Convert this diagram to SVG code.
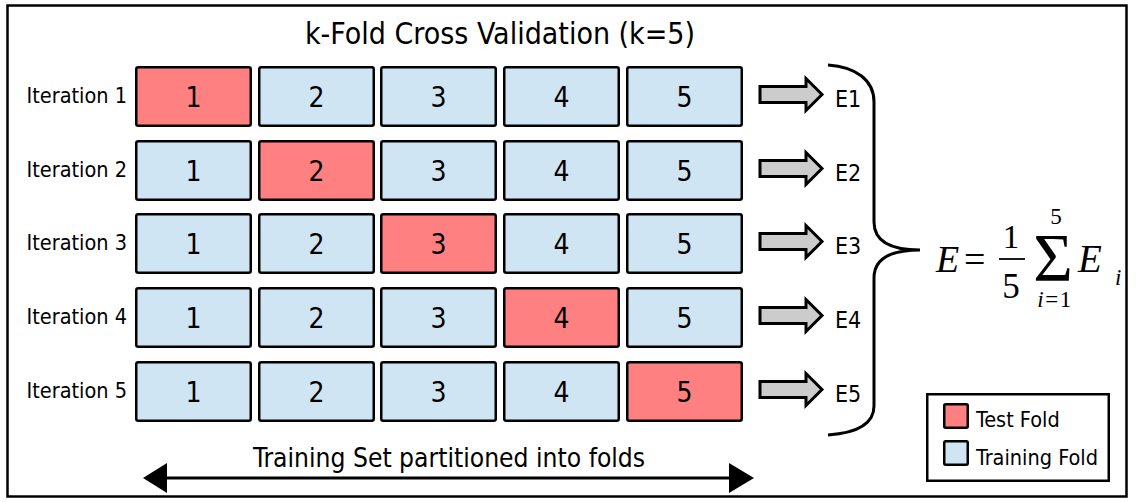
<svg xmlns="http://www.w3.org/2000/svg" width="1136" height="502" viewBox="0 0 1136 502">
  <style>
    .sans { font-family: "DejaVu Sans Condensed", "DejaVu Sans", "Liberation Sans", sans-serif; font-stretch: condensed; fill: #000; }
    .serif { font-family: "Liberation Serif", "DejaVu Serif", serif; fill: #000; }
    .cell { stroke: #000; stroke-width: 2.5; }
    .test { fill: #ff8080; }
    .train { fill: #d0e5f3; }
    .num { font-size: 28px; text-anchor: middle; }
    .iter { font-size: 21.5px; text-anchor: end; }
    .err { font-size: 23px; }
    .blk { fill: #cccccc; stroke: #000; stroke-width: 3; stroke-linejoin: miter; }
  </style>
  <defs>
    <polygon id="blockArrow" class="blk" points="0,-8 46,-8 46,-16 62,0 46,16 46,8 0,8"/>
  </defs>

  <!-- outer frame -->
  <rect x="7.5" y="5.5" width="1119" height="491" fill="#fff" stroke="#000" stroke-width="2.5"/>

  <text class="sans" x="500" y="44" font-size="30" text-anchor="middle">k-Fold Cross Validation (k=5)</text>

  <!-- iteration 1 -->
  <g id="iter1">
    <text class="sans iter" x="127" y="103">Iteration 1</text>
    <rect class="cell test" x="136.25" y="67.25" width="114.5" height="58.5" rx="2"/>
    <rect class="cell train" x="259.25" y="67.25" width="114.5" height="58.5" rx="2"/>
    <rect class="cell train" x="381.25" y="67.25" width="114.5" height="58.5" rx="2"/>
    <rect class="cell train" x="504.25" y="67.25" width="114.5" height="58.5" rx="2"/>
    <rect class="cell train" x="627.25" y="67.25" width="114.5" height="58.5" rx="2"/>
    <text class="sans num" x="193.5" y="107">1</text>
    <text class="sans num" x="316.5" y="107">2</text>
    <text class="sans num" x="438.5" y="107">3</text>
    <text class="sans num" x="561.5" y="107">4</text>
    <text class="sans num" x="684.5" y="107">5</text>
  </g>

  <!-- iteration 2 -->
  <g id="iter2">
    <text class="sans iter" x="127" y="177">Iteration 2</text>
    <rect class="cell train" x="136.25" y="141.25" width="114.5" height="58.5" rx="2"/>
    <rect class="cell test" x="259.25" y="141.25" width="114.5" height="58.5" rx="2"/>
    <rect class="cell train" x="381.25" y="141.25" width="114.5" height="58.5" rx="2"/>
    <rect class="cell train" x="504.25" y="141.25" width="114.5" height="58.5" rx="2"/>
    <rect class="cell train" x="627.25" y="141.25" width="114.5" height="58.5" rx="2"/>
    <text class="sans num" x="193.5" y="181">1</text>
    <text class="sans num" x="316.5" y="181">2</text>
    <text class="sans num" x="438.5" y="181">3</text>
    <text class="sans num" x="561.5" y="181">4</text>
    <text class="sans num" x="684.5" y="181">5</text>
  </g>

  <!-- iteration 3 -->
  <g id="iter3">
    <text class="sans iter" x="127" y="250">Iteration 3</text>
    <rect class="cell train" x="136.25" y="214.25" width="114.5" height="58.5" rx="2"/>
    <rect class="cell train" x="259.25" y="214.25" width="114.5" height="58.5" rx="2"/>
    <rect class="cell test" x="381.25" y="214.25" width="114.5" height="58.5" rx="2"/>
    <rect class="cell train" x="504.25" y="214.25" width="114.5" height="58.5" rx="2"/>
    <rect class="cell train" x="627.25" y="214.25" width="114.5" height="58.5" rx="2"/>
    <text class="sans num" x="193.5" y="254">1</text>
    <text class="sans num" x="316.5" y="254">2</text>
    <text class="sans num" x="438.5" y="254">3</text>
    <text class="sans num" x="561.5" y="254">4</text>
    <text class="sans num" x="684.5" y="254">5</text>
  </g>

  <!-- iteration 4 -->
  <g id="iter4">
    <text class="sans iter" x="127" y="324">Iteration 4</text>
    <rect class="cell train" x="136.25" y="288.25" width="114.5" height="58.5" rx="2"/>
    <rect class="cell train" x="259.25" y="288.25" width="114.5" height="58.5" rx="2"/>
    <rect class="cell train" x="381.25" y="288.25" width="114.5" height="58.5" rx="2"/>
    <rect class="cell test" x="504.25" y="288.25" width="114.5" height="58.5" rx="2"/>
    <rect class="cell train" x="627.25" y="288.25" width="114.5" height="58.5" rx="2"/>
    <text class="sans num" x="193.5" y="328">1</text>
    <text class="sans num" x="316.5" y="328">2</text>
    <text class="sans num" x="438.5" y="328">3</text>
    <text class="sans num" x="561.5" y="328">4</text>
    <text class="sans num" x="684.5" y="328">5</text>
  </g>

  <!-- iteration 5 -->
  <g id="iter5">
    <text class="sans iter" x="127" y="398">Iteration 5</text>
    <rect class="cell train" x="136.25" y="362.25" width="114.5" height="58.5" rx="2"/>
    <rect class="cell train" x="259.25" y="362.25" width="114.5" height="58.5" rx="2"/>
    <rect class="cell train" x="381.25" y="362.25" width="114.5" height="58.5" rx="2"/>
    <rect class="cell train" x="504.25" y="362.25" width="114.5" height="58.5" rx="2"/>
    <rect class="cell test" x="627.25" y="362.25" width="114.5" height="58.5" rx="2"/>
    <text class="sans num" x="193.5" y="402">1</text>
    <text class="sans num" x="316.5" y="402">2</text>
    <text class="sans num" x="438.5" y="402">3</text>
    <text class="sans num" x="561.5" y="402">4</text>
    <text class="sans num" x="684.5" y="402">5</text>
  </g>

  <!-- per-fold error labels -->
  <g id="errors">
    <text class="sans err" x="835" y="107">E1</text>
    <text class="sans err" x="835" y="181">E2</text>
    <text class="sans err" x="835" y="254">E3</text>
    <text class="sans err" x="835" y="328">E4</text>
    <text class="sans err" x="835" y="402">E5</text>
  </g>

  <!-- averaged error formula -->
  <g id="formula">
    <text class="serif" x="936" y="272" font-size="38" font-style="italic">E</text>
    <text class="serif" x="964" y="272" font-size="38">=</text>
    <text class="serif" x="1011" y="248" font-size="33" text-anchor="middle">1</text>
    <line x1="999" y1="259" x2="1025" y2="259" stroke="#000" stroke-width="1.8"/>
    <text class="serif" x="1011" y="298" font-size="35" text-anchor="middle">5</text>
    <text class="serif" x="1053" y="280" font-size="68" text-anchor="middle">Σ</text>
    <text class="serif" x="1056" y="224" font-size="23" text-anchor="middle">5</text>
    <text class="serif" x="1055" y="307" font-size="23" text-anchor="middle" letter-spacing="1.5"><tspan font-style="italic">i</tspan>=1</text>
    <text class="serif" x="1078" y="272" font-size="39" font-style="italic">E</text>
    <text class="serif" x="1115" y="285" font-size="23" font-style="italic">i</text>
  </g>

  <!-- legend -->
  <g id="legend">
    <rect x="927.25" y="394.25" width="181.5" height="86.5" fill="#fff" stroke="#000" stroke-width="2.5"/>
    <rect class="cell test" x="944.25" y="404.25" width="23.5" height="23.5" rx="1.5"/>
    <text class="sans" x="976" y="427" font-size="21.5">Test Fold</text>
    <rect class="cell train" x="944.25" y="441.25" width="23.5" height="23.5" rx="1.5"/>
    <text class="sans" x="976" y="465" font-size="21.5">Training Fold</text>
  </g>

  <!-- connectors: fold-to-error arrows, brace, partition span -->
  <g id="connectors">
    <use href="#blockArrow" x="760" y="94.5"/>
    <use href="#blockArrow" x="760" y="168.5"/>
    <use href="#blockArrow" x="760" y="241.5"/>
    <use href="#blockArrow" x="760" y="315.5"/>
    <use href="#blockArrow" x="760" y="389.5"/>

    <path d="M828,65 C856,67 874,80 874,102 L874,222 C874,240 888,250 920,250 C888,250 874,260 874,278 L874,406 C874,424 856,433 828,435" fill="none" stroke="#000" stroke-width="3"/>

    <line x1="160" y1="478" x2="735" y2="478" stroke="#000" stroke-width="3"/>
    <polygon points="143,478 167,463 167,493" fill="#000"/>
    <polygon points="754,478 729,463 729,493" fill="#000"/>
    <text class="sans" x="449" y="467" font-size="26.2" text-anchor="middle">Training Set partitioned into folds</text>
  </g>
</svg>
